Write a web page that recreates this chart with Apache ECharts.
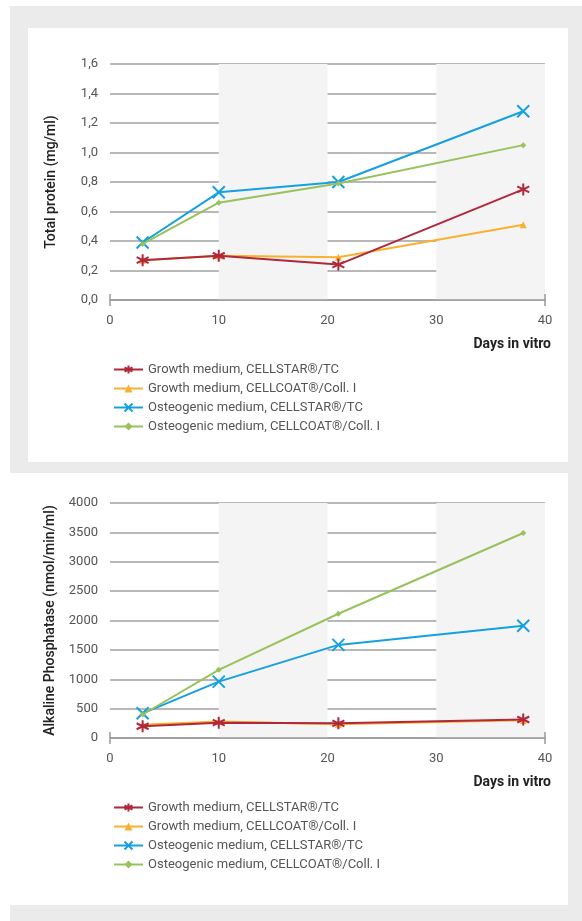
<!DOCTYPE html>
<html>
<head>
<meta charset="utf-8">
<script src="https://cdn.jsdelivr.net/npm/echarts@6/dist/echarts.min.js"></script>
<style>
html, body { margin: 0; padding: 0; background: #fff; }
#main { width: 582px; height: 921px; }
</style>
</head>
<body>
<div id="main"></div>
<script>
var days = [3, 10, 21, 38];
var seriesNames = [
	'Growth medium, CELLSTAR\u00ae/TC',
	'Growth medium, CELLCOAT\u00ae/Coll. I',
	'Osteogenic medium, CELLSTAR\u00ae/TC',
	'Osteogenic medium, CELLCOAT\u00ae/Coll. I'
];
// Total protein (mg/ml)
var proteinGrowthStar = [0.27, 0.30, 0.24, 0.75];
var proteinGrowthCoat = [0.27, 0.30, 0.29, 0.51];
var proteinOsteoStar = [0.39, 0.73, 0.80, 1.28];
var proteinOsteoCoat = [0.38, 0.66, 0.79, 1.05];
// Alkaline phosphatase (nmol/min/ml)
var alpGrowthStar = [200, 260, 250, 315];
var alpGrowthCoat = [225, 280, 235, 300];
var alpOsteoStar = [420, 960, 1585, 1910];
var alpOsteoCoat = [400, 1160, 2115, 3490];

var colors = ['#b1283a', '#f8b12e', '#15a0e0', '#97c25c'];
var symAsterisk = 'path://M0,-10L0,10M-8.7,-5L8.7,5M-8.7,5L8.7,-5';
var symCross = 'path://M-10,-10L10,10M-10,10L10,-10';
var symbols = [symAsterisk, 'triangle', symCross, 'diamond'];
var symbolSizes = [12, 7, 12, 6];

var pairs = function(ys) {
	var out = [];
	for (var i = 0; i < days.length; i++) {
		out.push([days[i], ys[i]]);
	}
	return out;
};

var mkSeries = function(idx, data, gi) {
	var stroke = idx === 0 || idx === 2;
	return {
		name : seriesNames[idx],
		type : 'line',
		xAxisIndex : gi * 3,
		yAxisIndex : gi,
		data : pairs(data),
		symbol : symbols[idx],
		symbolSize : symbolSizes[idx],
		showSymbol : true,
		z : 5 + (idx === 0 ? 4 : idx),
		lineStyle : { color : colors[idx], width : 2 },
		itemStyle : {
			color : stroke ? 'rgba(0,0,0,0)' : colors[idx],
			borderColor : colors[idx],
			borderWidth : stroke ? 2 : 0
		}
	};
};

var labelColor = '#555';
var fontFam = 'Roboto, "Noto Sans", sans-serif';

var grids = [
	{ left : 110, right : 37, top : 64, height : 236 },
	{ left : 110, right : 37, top : 503, height : 235 }
];

var xAxes = [];
var yAxes = [];
for (var g = 0; g < 2; g++) {
	xAxes.push({
		type : 'value', gridIndex : g, position : 'bottom', min : 0, max : 40, interval : 10,
		axisLine : { show : true, lineStyle : { color : '#999', width : 1.5 } },
		axisTick : { show : false },
		splitLine : { show : false },
		splitArea : { show : true, areaStyle : { color : ['rgba(0,0,0,0)', '#f4f4f4'] } },
		axisLabel : { color : labelColor, fontSize : 13, fontFamily : fontFam, margin : 14 }
	});
	// end caps at 0 and 40
	xAxes.push({
		type : 'value', gridIndex : g, position : 'bottom', offset : 0, min : 0, max : 40, interval : 40,
		axisLine : { show : false },
		axisTick : { show : true, inside : true, length : 6, lineStyle : { color : '#999', width : 1.5 } },
		axisLabel : { show : false }, splitLine : { show : false }
	});
	xAxes.push({
		type : 'value', gridIndex : g, position : 'bottom', offset : 0, min : 0, max : 40, interval : 40,
		axisLine : { show : false },
		axisTick : { show : true, inside : false, length : 6, lineStyle : { color : '#999', width : 1.5 } },
		axisLabel : { show : false }, splitLine : { show : false }
	});
}

yAxes.push({
	type : 'value', gridIndex : 0, min : 0, max : 1.6, interval : 0.2,
	name : 'Total protein (mg/ml)', nameLocation : 'middle', nameGap : 52,
	nameTextStyle : { color : '#222', fontSize : 14, fontWeight : 500, fontFamily : fontFam },
	axisLine : { show : false }, axisTick : { show : false },
	splitLine : { lineStyle : { color : '#a0a0a0', width : 1.5 } },
	axisLabel : {
		color : labelColor, fontSize : 13, fontFamily : fontFam, margin : 12,
		formatter : function(v) { return v.toFixed(1).replace('.', ','); }
	}
});
yAxes.push({
	type : 'value', gridIndex : 1, min : 0, max : 4000, interval : 500,
	name : 'Alkaline Phosphatase (nmol/min/ml)', nameLocation : 'middle', nameGap : 52,
	nameTextStyle : { color : '#222', fontSize : 14, fontWeight : 500, fontFamily : fontFam },
	axisLine : { show : false }, axisTick : { show : false },
	splitLine : { lineStyle : { color : '#a0a0a0', width : 1.5 } },
	axisLabel : {
		color : labelColor, fontSize : 13, fontFamily : fontFam, margin : 12,
		formatter : function(v) { return String(v); }
	}
});

var series = [
	mkSeries(1, proteinGrowthCoat, 0),
	mkSeries(3, proteinOsteoCoat, 0),
	mkSeries(2, proteinOsteoStar, 0),
	mkSeries(0, proteinGrowthStar, 0),
	mkSeries(1, alpGrowthCoat, 1),
	mkSeries(3, alpOsteoCoat, 1),
	mkSeries(2, alpOsteoStar, 1),
	mkSeries(0, alpGrowthStar, 1)
];

var legendBase = function(top) {
	return {
		data : seriesNames, orient : 'vertical', left : 108, top : top,
		itemWidth : 29, itemHeight : 10, itemGap : 6,
		textStyle : { color : labelColor, fontSize : 13, fontFamily : fontFam }
	};
};

var chart = echarts.init(document.getElementById('main'));
chart.setOption({
	backgroundColor : '#fff',
	animation : false,
	graphic : [
		{ type : 'rect', z : -10, silent : true, shape : { x : 10, y : 6, width : 572, height : 915 }, style : { fill : '#ebebeb' } },
		{ type : 'rect', z : -9, silent : true, shape : { x : 28, y : 28, width : 540, height : 434 }, style : { fill : '#fff' } },
		{ type : 'rect', z : -9, silent : true, shape : { x : 0, y : 473, width : 568, height : 432 }, style : { fill : '#fff' } },
		{ type : 'text', right : 31, top : 337, style : { text : 'Days in vitro', fill : '#222', font : 'bold 14px ' + fontFam } },
		{ type : 'text', right : 31, top : 775, style : { text : 'Days in vitro', fill : '#222', font : 'bold 14px ' + fontFam } }
	],
	grid : grids,
	xAxis : xAxes,
	yAxis : yAxes,
	legend : [legendBase(358), legendBase(796)],
	series : series
});
</script>
</body>
</html>
